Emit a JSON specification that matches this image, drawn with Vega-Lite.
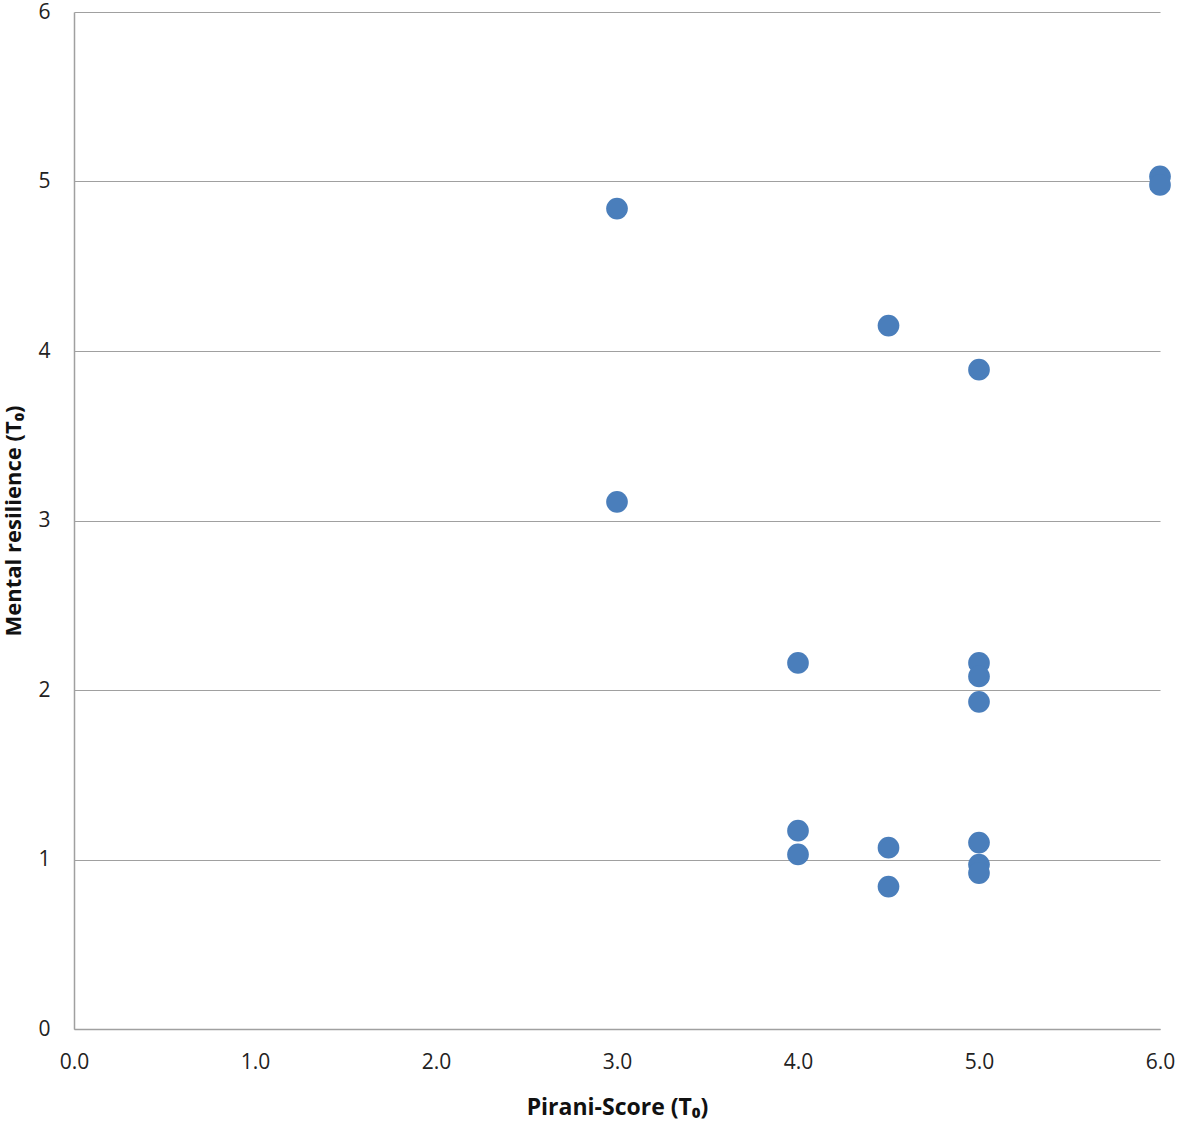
{
  "$schema": "https://vega.github.io/schema/vega-lite/v6.json",
  "width": 1086,
  "height": 1017,
  "autosize": "none",
  "padding": {"left": 74, "top": 12, "right": 21, "bottom": 95},
  "background": "white",
  "config": {"view": {"stroke": null}},
  "data": {
    "values": [
      {"pirani": 3.0, "resilience": 4.84},
      {"pirani": 3.0, "resilience": 3.11},
      {"pirani": 4.5, "resilience": 4.15},
      {"pirani": 5.0, "resilience": 3.89},
      {"pirani": 6.0, "resilience": 5.03},
      {"pirani": 6.0, "resilience": 4.98},
      {"pirani": 4.0, "resilience": 2.16},
      {"pirani": 5.0, "resilience": 2.16},
      {"pirani": 5.0, "resilience": 2.08},
      {"pirani": 5.0, "resilience": 1.93},
      {"pirani": 4.0, "resilience": 1.17},
      {"pirani": 4.0, "resilience": 1.03},
      {"pirani": 4.5, "resilience": 1.07},
      {"pirani": 4.5, "resilience": 0.84},
      {"pirani": 5.0, "resilience": 1.10},
      {"pirani": 5.0, "resilience": 0.97},
      {"pirani": 5.0, "resilience": 0.92}
    ]
  },
  "mark": {"type": "circle", "size": 470, "color": "#4a7ebb", "opacity": 1},
  "encoding": {
    "x": {
      "field": "pirani",
      "type": "quantitative",
      "scale": {"domain": [0, 6], "nice": false, "zero": true},
      "axis": {
        "values": [0, 1, 2, 3, 4, 5, 6],
        "format": ".1f",
        "grid": false,
        "ticks": false,
        "labelFlush": false,
        "domainColor": "#a0a0a0",
        "domainWidth": 1.5,
        "labelFont": "Open Sans",
        "labelFontSize": 21,
        "labelColor": "#222222",
        "labelPadding": 22,
        "title": "Pirani-Score (T₀)",
        "titleFont": "Open Sans",
        "titleFontSize": 23,
        "titleFontWeight": "bold",
        "titleColor": "#111111",
        "titlePadding": 24
      }
    },
    "y": {
      "field": "resilience",
      "type": "quantitative",
      "scale": {"domain": [0, 6], "nice": false},
      "axis": {
        "values": [0, 1, 2, 3, 4, 5, 6],
        "format": "d",
        "grid": true,
        "gridColor": "#a0a0a0",
        "gridWidth": 1.2,
        "ticks": false,
        "labelFlush": false,
        "domainColor": "#a0a0a0",
        "domainWidth": 1.5,
        "labelFont": "Open Sans",
        "labelFontSize": 21,
        "labelColor": "#222222",
        "labelPadding": 24,
        "title": "Mental resilience (T₀)",
        "titleFont": "Open Sans",
        "titleFontSize": 22,
        "titleFontWeight": "bold",
        "titleColor": "#111111",
        "titlePadding": 12
      }
    }
  }
}
